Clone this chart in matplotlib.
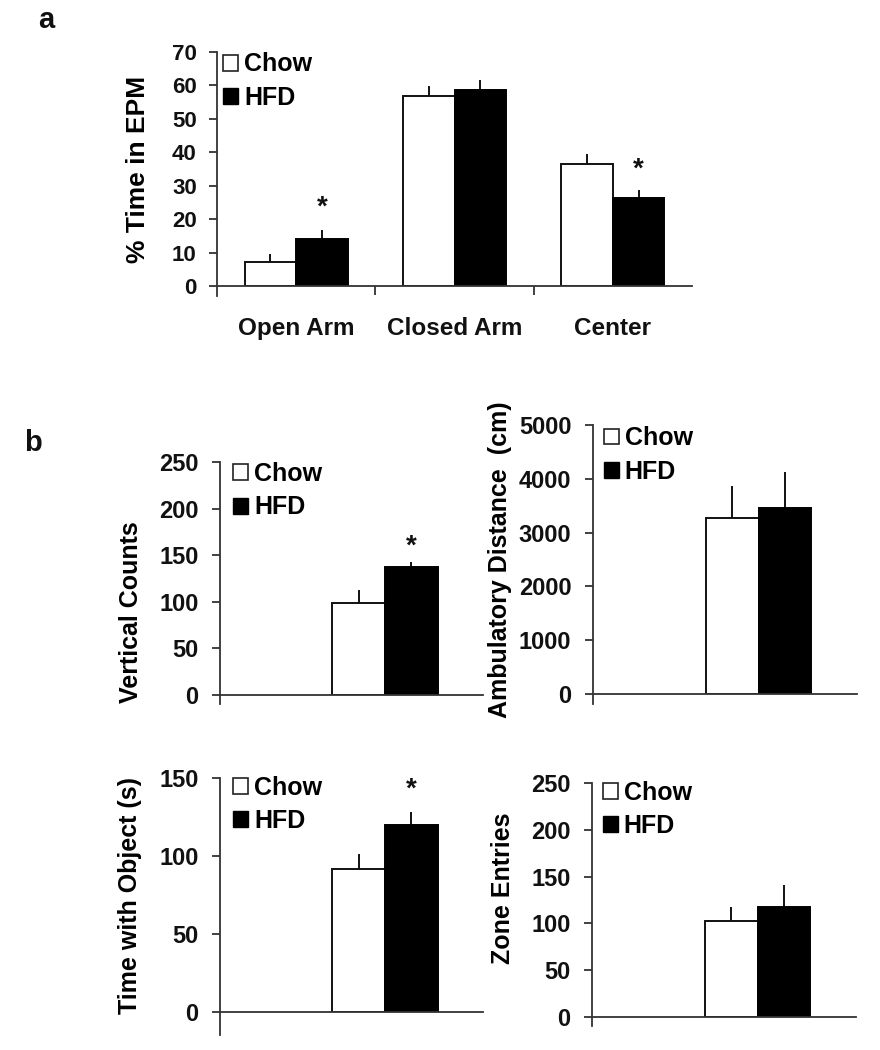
import numpy as np
import matplotlib
matplotlib.use('Agg')
import matplotlib.pyplot as plt
from matplotlib.patches import Patch

# Set plotting defaults
fnt = {'family': 'Liberation Sans', 'weight': 'bold', 'size': 16}
matplotlib.rc('font', **fnt)
matplotlib.rc('axes', labelweight='bold')
ink = '#111111'

# Panel a: elevated plus maze
epm_cats = ['Open Arm', 'Closed Arm', 'Center']
epm_chow = [7.2, 56.7, 36.4]
epm_chow_err = [2.3, 3.0, 3.1]
epm_hfd = [14.2, 58.5, 26.2]
epm_hfd_err = [2.7, 3.2, 2.5]
epm_star_y = [23.3, None, 34.7]   # star over the HFD bar

# Panel b: open field / novel object (one group each)
vc_chow, vc_chow_err, vc_hfd, vc_hfd_err = 99, 14, 137, 6
ad_chow, ad_chow_err, ad_hfd, ad_hfd_err = 3270, 600, 3460, 670
to_chow, to_chow_err, to_hfd, to_hfd_err = 91.5, 10, 120, 8.5
ze_chow, ze_chow_err, ze_hfd, ze_hfd_err = 103, 14, 117, 24

vc_star_y = 159
to_star_y = 142.5


def style_axis(ax, ymax, step, below, fs, pad):
    for s in ['top', 'right']:
        ax.spines[s].set_visible(False)
    for s in ['left', 'bottom']:
        ax.spines[s].set_linewidth(1.3)
        ax.spines[s].set_color('#333333')
    ax.set_ylim(0, ymax)
    ax.spines['left'].set_bounds(-below, ymax)
    ax.set_yticks(np.arange(0, ymax + step / 2, step))
    ax.tick_params(axis='y', direction='out', length=5.5, width=1.3,
                   color='#333333', pad=pad, labelcolor=ink, labelsize=fs)
    ax.tick_params(axis='x', which='major', length=0, labelcolor=ink)


def add_legend(ax, anchor):
    hdl = [Patch(facecolor='white', edgecolor='#222222', linewidth=1.2),
           Patch(facecolor='black', edgecolor='black')]
    ax.legend(hdl, ['Chow', 'HFD'], loc='upper left', bbox_to_anchor=anchor,
              frameon=False, handlelength=0.6, handleheight=0.6,
              handletextpad=0.25, labelspacing=0.38, borderaxespad=0,
              borderpad=0, prop={'family': 'Liberation Sans', 'weight': 'bold', 'size': 18})


def pair_bars(ax, x, chow, chow_err, hfd, hfd_err, w):
    x = np.asarray(x, dtype=float)
    ax.bar(x - w / 2, chow, w, color='white', edgecolor='#111111', linewidth=1.4, zorder=2)
    ax.bar(x + w / 2, hfd, w, color='black', edgecolor='black', linewidth=1.4, zorder=2)
    ax.errorbar(x - w / 2, chow, yerr=[np.zeros_like(x), np.atleast_1d(chow_err)],
                fmt='none', ecolor='#111111', elinewidth=1.4, capsize=0, zorder=1)
    ax.errorbar(x + w / 2, hfd, yerr=[np.zeros_like(x), np.atleast_1d(hfd_err)],
                fmt='none', ecolor='#111111', elinewidth=1.4, capsize=0, zorder=1)


F1 = plt.figure(figsize=(8.8, 10.5), dpi=100)
W, H = 880.0, 1050.0


def axes_px(l, t, r, b):
    return F1.add_axes([l / W, 1 - b / H, (r - l) / W, (b - t) / H])


# ---- panel a
ax1 = axes_px(217, 52, 692, 286)
wa = 0.326
xa = np.arange(len(epm_cats))
pair_bars(ax1, xa, epm_chow, epm_chow_err, epm_hfd, epm_hfd_err, wa)
ax1.set_xlim(-0.5, 2.5)
style_axis(ax1, 70, 10, 3, 16, 9)
ax1.set_xticks(xa)
ax1.set_xticklabels(epm_cats, fontsize=17.5)
ax1.set_xticks([0.5, 1.5], minor=True)
ax1.tick_params(axis='x', which='minor', direction='out', length=6.5, width=1.3, color='#333333')
ax1.tick_params(axis='x', which='major', pad=22)
ax1.set_ylabel('% Time in EPM', fontsize=19)
ax1.yaxis.set_label_coords(-0.141, 0.5)
for i in range(len(epm_cats)):
    if epm_star_y[i] is not None:
        ax1.text(xa[i] + wa / 2, epm_star_y[i], '*', ha='center', va='center', fontsize=20, color=ink)
add_legend(ax1, (0.012, 0.998))

# ---- panel b
wb = 0.4
xb = [1]
bxlim = (-0.255, 1.745)

ax2 = axes_px(220, 462, 483, 695)
pair_bars(ax2, xb, [vc_chow], [vc_chow_err], [vc_hfd], [vc_hfd_err], wb)
ax2.set_xlim(*bxlim)
style_axis(ax2, 250, 50, 10, 17, 10)
ax2.set_xticks([])
ax2.set_ylabel('Vertical Counts', fontsize=18)
ax2.yaxis.set_label_coords(-0.293, 0.356)
ax2.text(xb[0] + wb / 2, vc_star_y, '*', ha='center', va='center', fontsize=20, color=ink)
add_legend(ax2, (0.05, 1.0))

ax3 = axes_px(593, 425, 857, 694)
pair_bars(ax3, xb, [ad_chow], [ad_chow_err], [ad_hfd], [ad_hfd_err], wb)
ax3.set_xlim(*bxlim)
style_axis(ax3, 5000, 1000, 180, 17, 10)
ax3.set_xticks([])
ax3.set_ylabel('Ambulatory Distance  (cm)', fontsize=18)
ax3.yaxis.set_label_coords(-0.307, 0.5)
add_legend(ax3, (0.04, 0.995))

ax4 = axes_px(220, 778, 483, 1012)
pair_bars(ax4, xb, [to_chow], [to_chow_err], [to_hfd], [to_hfd_err], wb)
ax4.set_xlim(*bxlim)
style_axis(ax4, 150, 50, 15, 17, 10)
ax4.set_xticks([])
ax4.set_ylabel('Time with Object (s)', fontsize=18)
ax4.yaxis.set_label_coords(-0.297, 0.5)
ax4.text(xb[0] + wb / 2, to_star_y, '*', ha='center', va='center', fontsize=20, color=ink)
add_legend(ax4, (0.05, 1.01))

ax5 = axes_px(592, 783, 856, 1017)
pair_bars(ax5, xb, [ze_chow], [ze_chow_err], [ze_hfd], [ze_hfd_err], wb)
ax5.set_xlim(*bxlim)
style_axis(ax5, 250, 50, 10, 17, 10)
ax5.set_xticks([])
ax5.set_ylabel('Zone Entries', fontsize=18)
ax5.yaxis.set_label_coords(-0.292, 0.55)
add_legend(ax5, (0.04, 1.01))

F1.text(46 / W, 1 - 20 / H, 'a', fontsize=21, fontweight='bold', ha='center', va='center', color=ink)
F1.text(33 / W, 1 - 443 / H, 'b', fontsize=21, fontweight='bold', ha='center', va='center', color=ink)

F1.savefig('out.png', dpi=100)
